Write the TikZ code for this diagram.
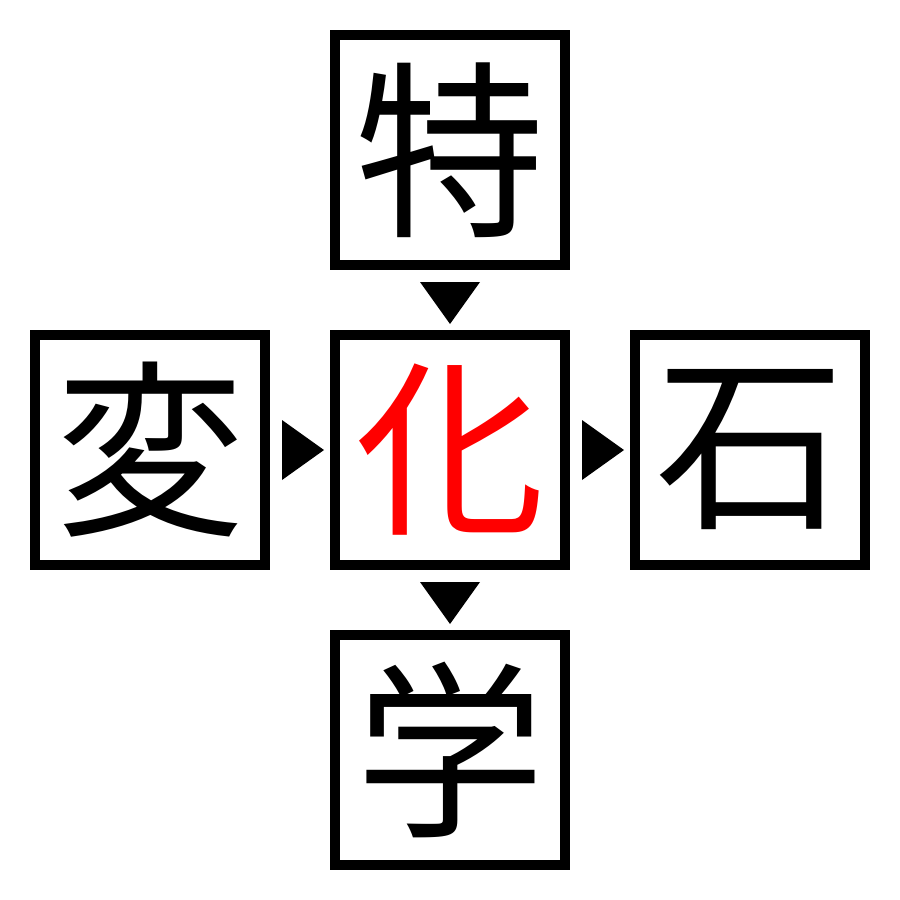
\documentclass[tikz,border=0pt]{standalone}
\usepackage{fontspec}
\newfontfamily\cjk{Noto Sans CJK JP}
\begin{document}
\begin{tikzpicture}[x=0.01cm,y=-0.01cm,
  kbox/.style={draw=black,line width=0.1cm,minimum size=2.3cm,inner sep=0pt,outer sep=0pt,
    font=\cjk\fontsize{54}{54}\selectfont},
  tri/.style={fill=black}]
\useasboundingbox (0,0) rectangle (900,900);
\node[kbox] (t) at (450,150) {特};
\node[kbox] (l) at (150,450) {変};
\node[kbox,text=red] (c) at (450,450) {化};
\node[kbox] (r) at (750,450) {石};
\node[kbox] (b) at (450,750) {学};
\fill[tri] (420,282) -- (480,282) -- (450,324) -- cycle;
\fill[tri] (420,582) -- (480,582) -- (450,624) -- cycle;
\fill[tri] (282,420) -- (282,480) -- (324,450) -- cycle;
\fill[tri] (582,420) -- (582,480) -- (624,450) -- cycle;
\end{tikzpicture}
\end{document}
